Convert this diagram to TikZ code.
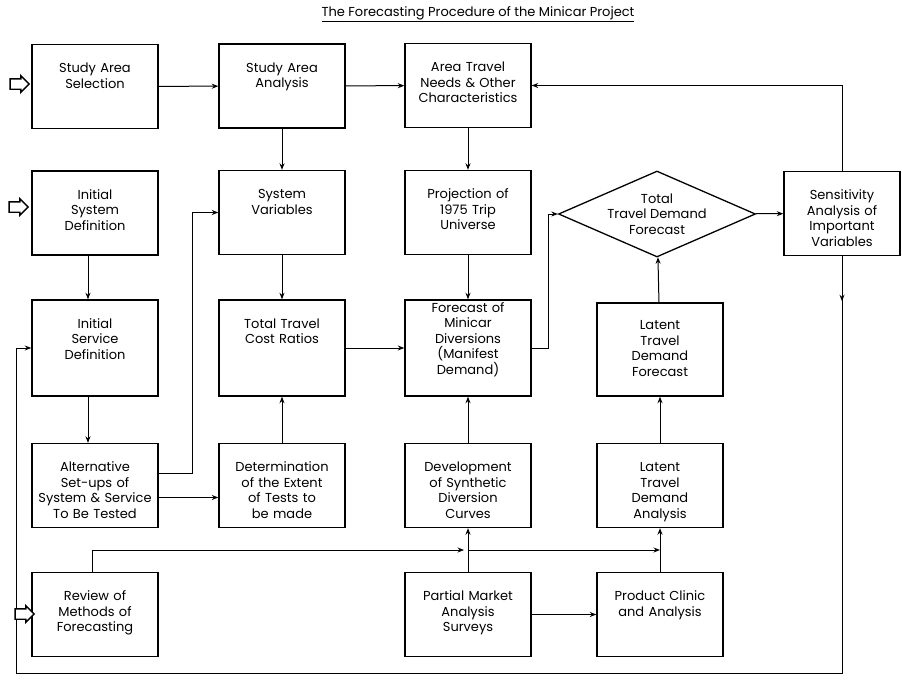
\documentclass[tikz,border=0pt]{standalone}
\usepackage{fontspec}
\setmainfont{Poppins}
\usetikzlibrary{arrows.meta,shapes.geometric,shapes.arrows,calc}
\begin{document}
\begin{tikzpicture}[x=1pt,y=-1pt,
    line width=1pt,
    every node/.style={font=\fontsize{13}{15.5}\selectfont},
    box/.style={draw, line width=1.4pt, rectangle, minimum width=126pt, minimum height=84pt,
        text width=122pt, align=center, inner sep=0pt,
        text height=9pt, text depth=37pt},
    tall/.style={box, minimum height=96pt, text depth=49pt},
    dia/.style={draw, line width=1.3pt, diamond, aspect=2.3, inner sep=0pt, align=center,
        minimum width=197pt, minimum height=86pt},
    inarrow/.style={draw, line width=1.4pt, single arrow, fill=white, inner sep=4.5pt,
        single arrow head extend=3pt, minimum height=19pt},
    flow/.style={-{Stealth[length=6.5pt,width=5pt]}}]
    \useasboundingbox (0,0) rectangle (902,680);
    \node (title) at (478,14) {\underline{The Forecasting Procedure of the Minicar Project}};
    % row 1
    \node[box] (sas) at (95,86.5) {Study Area\\Selection};
    \node[box] (sana) at (282,86) {Study Area\\Analysis};
    \node[box] (atn) at (468,85.5) {Area Travel\\Needs \& Other\\Characteristics};
    % row 2
    \node[box] (isd) at (95,213) {Initial\\System\\Definition};
    \node[box] (sv) at (282,212.5) {System\\Variables};
    \node[box] (proj) at (468,212.5) {Projection of\\1975 Trip\\Universe};
    \node[dia] (tdf) at (657,214) {Total\\Travel Demand\\Forecast};
    \node[box, minimum width=116pt, text width=112pt] (sens) at (842,213.5) {Sensitivity\\Analysis of\\Important\\Variables};
    % row 3
    \node[tall] (isv) at (95,348) {Initial\\Service\\Definition};
    \node[tall] (ttc) at (282,348) {Total Travel\\Cost Ratios};
    \node[tall, text depth=81pt] (fmd) at (468,348) {Forecast of\\Minicar\\Diversions\\(Manifest\\Demand)};
    \node[tall, minimum height=93pt] (ltdf) at (660,349.5) {Latent\\Travel\\Demand\\Forecast};
    % row 4
    \node[box] (alt) at (95,485.5) {Alternative\\Set-ups of\\System \& Service\\To Be Tested};
    \node[box] (det) at (282,485.5) {Determination\\of the Extent\\of Tests to\\be made};
    \node[box] (dsdc) at (468,485.5) {Development\\of Synthetic\\Diversion\\Curves};
    \node[box] (ltda) at (660,485.5) {Latent\\Travel\\Demand\\Analysis};
    % row 5
    \node[box] (rmf) at (95,614.5) {Review of\\Methods of\\Forecasting};
    \node[box] (pma) at (468,614.5) {Partial Market\\Analysis\\Surveys};
    \node[box] (pca) at (660,614.5) {Product Clinic\\and Analysis};
    % inputs
    \draw[flow] (sas) -- (sana);
    \draw[flow] (sana) -- (atn);
    \draw[flow] (sana) -- (sv);
    \draw[flow] (atn) -- (proj);
    \draw[flow] ([xshift=-7pt]isd.south) -- ([xshift=-7pt]isv.north);
    \draw[flow] (sv) -- (ttc);
    \draw[flow] (proj) -- (fmd);
    \draw[flow] (ttc) -- (fmd);
    \draw[flow] (fmd.east) -- ++(17,0) |- (tdf.west);
    \draw[flow] (tdf) -- (sens);
    \draw[flow] (ltdf) -- (tdf);
    \draw[flow] (sens.north) |- (atn.east);
    % feedback round the bottom
    \coordinate (sw) at (16,673);
    \draw[flow] (sens.south) -- ([yshift=-45pt]sens.south);
    \draw[flow] (sens.south) |- (sw) |- (isv.west);
    \draw[flow] ([xshift=-7pt]isv.south) -- ([xshift=-7pt]alt.north);
    \draw[flow] ([yshift=12pt]alt.east) -- ++(34,0) |- (sv.west);
    \draw[flow] ([yshift=-12pt]alt.east) -- ([yshift=-12pt]det.west);
    \draw[flow] (det) -- (ttc);
    \draw[flow] (dsdc) -- (fmd);
    \draw[flow] (ltda) -- (ltdf);
    \coordinate (jn1) at ($(dsdc.south)!0.5!(pma.north)$);
    \coordinate (jn2) at (ltda.south |- jn1);
    \draw[flow] ([xshift=-3pt]rmf.north) |- ([xshift=-4pt]jn1);
    \draw[flow] (jn1) -- (jn2);
    \draw[flow, {Stealth[length=6.5pt,width=5pt]}-] (dsdc) -- (pma);
    \draw[flow] (pca) -- (ltda);
    \draw[flow] (pma) -- (pca);
    \node[inarrow] (in1) at (17,84) {};
    \node[inarrow] (in2) at (16,207) {};
    \node[inarrow] (in3) at (22,614) {};
\end{tikzpicture}
\end{document}
